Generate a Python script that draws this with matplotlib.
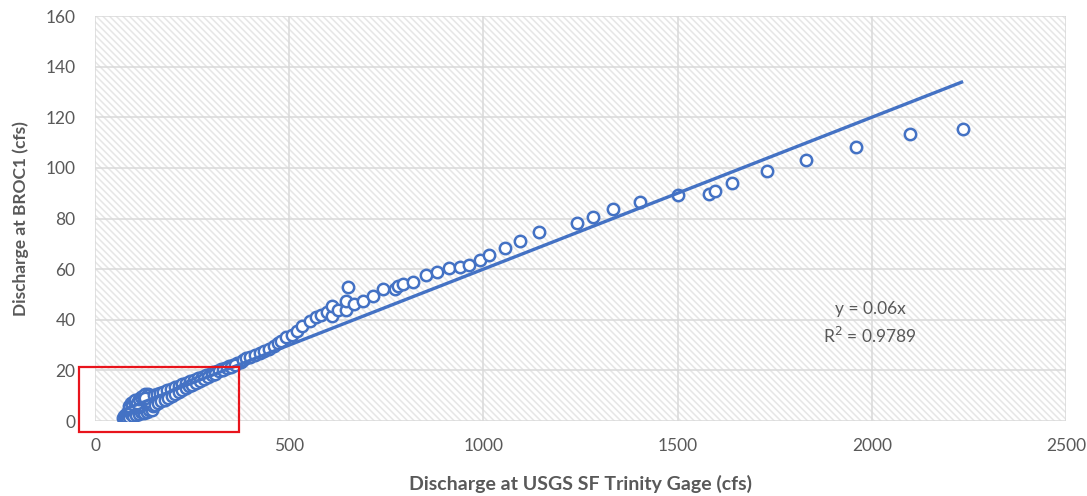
import matplotlib
matplotlib.use("Agg")
import matplotlib.pyplot as plt
from matplotlib.patches import Rectangle
import numpy as np

plt.rcParams['font.family'] = ['Lato', 'DejaVu Sans']
plt.rcParams['hatch.linewidth'] = 1.1

# Paired daily discharge readings (cfs): USGS SF Trinity gage vs BROC1
sf_trinity_low = [72, 74, 76, 78, 80, 82, 84, 86, 88, 90, 92, 94, 96, 98, 100,
                  102, 104, 106, 108, 110, 112, 114, 116, 118, 120, 122, 124,
                  126, 128, 130, 132, 134, 136, 138, 140, 142, 144, 146, 148, 150,
                  88, 92, 96, 100, 104, 108, 112, 118, 124, 130, 136, 140, 145,
                  150, 138, 128]
broc1_low = [1.2, 2.0, 0.8, 1.6, 2.8, 1.0, 3.4, 2.2, 1.4, 4.0, 2.6, 5.2, 3.0,
             1.8, 4.4, 6.0, 3.2, 2.4, 5.0, 3.8, 6.5, 2.8, 4.6, 3.4, 5.6, 7.0,
             4.0, 3.0, 6.2, 4.8, 8.0, 3.6, 5.4, 4.2, 6.8, 9.0, 5.0, 4.4, 7.4, 5.8,
             6.0, 7.2, 6.6, 7.8, 8.4, 7.0, 8.8, 9.4, 10.0, 10.6, 10.8, 10.2, 9.6,
             8.6, 8.0, 9.0]

sf_trinity_mid = [152, 160, 168, 176, 185, 195, 205, 215, 225, 235, 245, 255,
                  265, 275, 285, 295, 305, 315, 325, 335, 345, 355, 365, 375,
                  155, 163, 171, 179, 188, 197, 206, 215, 224, 233, 242, 251,
                  260, 270, 280, 290, 300, 310, 320, 330, 340, 350, 360]
broc1_mid = [10.4, 10.5, 11.2, 11.5, 12.1, 12.5, 13.3, 13.7, 14.5, 14.9, 15.7,
             16.1, 16.9, 17.3, 18.1, 18.5, 19.3, 19.7, 20.5, 20.9, 21.7, 22.1,
             22.9, 23.5,
             6.5, 7.0, 7.9, 8.3, 9.1, 9.7, 10.7, 11.3, 12.3, 12.9, 13.9, 14.3,
             15.1, 15.7, 16.7, 17.3, 18.1, 18.7, 19.7, 20.1, 20.9, 21.3, 22.1]

sf_trinity_high = [380, 390, 400, 412, 424, 436, 448, 460, 470, 480, 492, 506,
                   519, 534, 553, 568, 583, 598, 610, 610, 625, 647, 647, 651,
                   668, 690, 716, 741, 772, 780, 793, 818, 851, 880, 911, 939,
                   964, 990, 1014, 1055, 1093, 1142, 1242, 1281, 1333, 1402,
                   1502, 1580, 1595, 1641, 1731, 1831, 1959, 2099, 2235]
broc1_high = [24.2, 24.8, 25.4, 26.0, 26.8, 27.6, 28.6, 29.8, 30.8, 31.8, 33.0,
              34.0, 35.6, 37.4, 39.6, 41.0, 42.0, 43.0, 41.5, 45.5, 44.0, 43.9,
              47.4, 53.0, 46.2, 47.4, 49.4, 52.2, 52.2, 53.2, 54.0, 55.0, 57.7,
              59.0, 60.5, 61.0, 61.7, 63.6, 65.6, 68.3, 71.0, 74.8, 78.4, 80.7,
              83.8, 86.6, 89.3, 89.6, 91.0, 94.0, 98.8, 103.2, 108.2, 113.3,
              115.3]

trend_slope = 0.06
r_squared = 0.9789

x_ticks = [0, 500, 1000, 1500, 2000, 2500]
y_ticks = [0, 20, 40, 60, 80, 100, 120, 140, 160]

blue = '#4472C4'
text_grey = '#595959'

fig = plt.figure(figsize=(10.87, 4.96), dpi=100)
ax = fig.add_axes([0.0874, 0.1512, 0.8933, 0.8165])

# hatched plot-area fill
ax.patch.set_facecolor('white')
ax.add_patch(Rectangle((0, 0), 1, 1, transform=ax.transAxes, facecolor='white',
                       edgecolor='#e6e6e6', hatch='\\\\\\\\\\', linewidth=0,
                       zorder=0))

x_all = np.array(sf_trinity_low + sf_trinity_mid + sf_trinity_high, dtype=float)
y_all = np.array(broc1_low + broc1_mid + broc1_high, dtype=float)

ax.plot(x_all, y_all, linestyle='none', marker='o', markersize=8.2,
        markerfacecolor='white', markeredgecolor=blue, markeredgewidth=1.8,
        zorder=3)

xt = np.array([x_all.min(), x_all.max()])
ax.plot(xt, trend_slope * xt, color=blue, linewidth=2.4, zorder=4,
        solid_capstyle='butt')

ax.set_xlim(x_ticks[0], x_ticks[-1])
ax.set_ylim(y_ticks[0], y_ticks[-1])
ax.set_xticks(x_ticks)
ax.set_yticks(y_ticks)
ax.grid(True, color='#d9d9d9', linewidth=1.1, zorder=1)
ax.set_axisbelow(True)
for s in ax.spines.values():
    s.set_visible(False)
ax.tick_params(axis='both', length=0, labelsize=12.5, colors=text_grey)
ax.tick_params(axis='y', pad=14)
ax.tick_params(axis='x', pad=12)

ax.set_xlabel('Discharge at USGS SF Trinity Gage (cfs)', fontsize=14,
              fontweight='bold', color=text_grey, labelpad=15)
ax.set_ylabel('Discharge at BROC1 (cfs)', fontsize=12.5, fontweight='bold',
              color=text_grey, labelpad=12)

ax.text(1995, 44.2, f'y = {trend_slope:g}x', fontsize=12.5, color=text_grey,
        ha='center', va='center', zorder=5)
ax.text(1995, 33.5, f'R$^2$ = {r_squared}', fontsize=12.5, color=text_grey,
        ha='center', va='center', zorder=5)

# highlight box around the low-flow cluster
fig.patches.append(Rectangle((79 / 1087, 1 - 432 / 496), 160 / 1087, 65 / 496,
                             transform=fig.transFigure, fill=False,
                             edgecolor='#e8141c', linewidth=1.6, zorder=10))

fig.savefig('out.png', dpi=100)
